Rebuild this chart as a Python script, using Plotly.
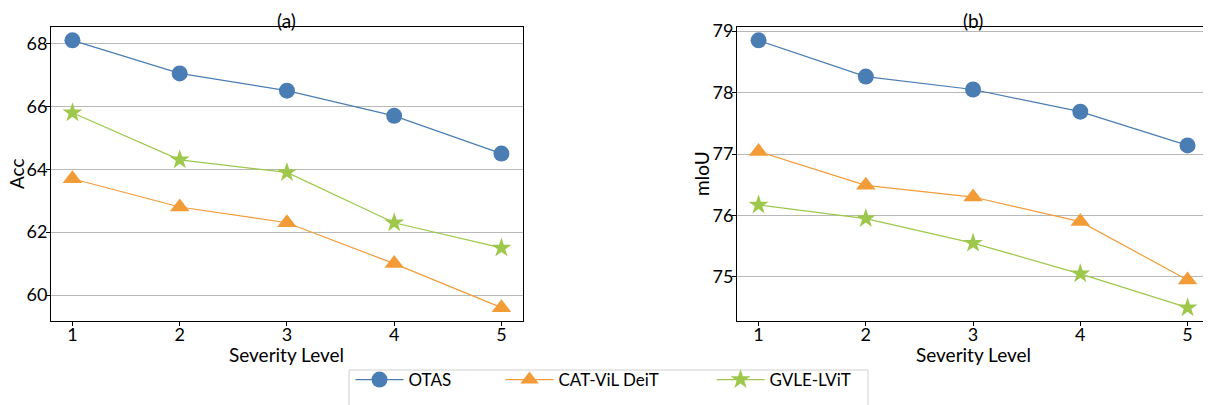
import plotly.graph_objects as go
from plotly.subplots import make_subplots

levels = [1, 2, 3, 4, 5]
series_names = ["OTAS", "CAT-ViL DeiT", "GVLE-LViT"]

acc_otas = [68.1, 67.05, 66.5, 65.7, 64.5]
acc_catvil = [63.7, 62.8, 62.3, 61.0, 59.6]
acc_gvle = [65.8, 64.3, 63.9, 62.3, 61.5]

miou_otas = [78.85, 78.26, 78.05, 77.69, 77.14]
miou_catvil = [77.04, 76.49, 76.30, 75.90, 74.95]
miou_gvle = [76.17, 75.95, 75.55, 75.05, 74.50]

acc_ticks = [60, 62, 64, 66, 68]
miou_ticks = [75, 76, 77, 78, 79]

panel_titles = ["(a)", "(b)"]
x_title = "Severity Level"
y_titles = ["Acc", "mIoU"]

colors = ["#4A7DB3", "#F29C38", "#9DC84B"]
symbols = ["circle", "triangle-up", "star"]
msizes = [16, 17, 15]
legend_ids = ["legend", "legend2", "legend3"]

FONT = "Lato"
# the page body adds an 8px offset: draw the figure 8px smaller and shift
# all reference pixel positions by OFF
OFF = 8
W, H = 1211 - OFF, 405 - OFF

def sx(px):
    return px - OFF

# page pixel x where each legend entry's line sample starts
legend_line_start = [356, 506, 717]

fig = make_subplots(rows=1, cols=2, horizontal_spacing=0.185)

for i, (name, ys) in enumerate(zip(series_names, [acc_otas, acc_catvil, acc_gvle])):
    fig.add_trace(go.Scatter(x=levels, y=ys, mode="lines+markers", name=name,
                             line=dict(color=colors[i], width=1.2),
                             marker=dict(symbol=symbols[i], size=msizes[i], color=colors[i],
                                         line=dict(width=0)),
                             legendgroup=name, legend=legend_ids[i], showlegend=True), row=1, col=1)
for i, (name, ys) in enumerate(zip(series_names, [miou_otas, miou_catvil, miou_gvle])):
    fig.add_trace(go.Scatter(x=levels, y=ys, mode="lines+markers", name=name,
                             line=dict(color=colors[i], width=1.2),
                             marker=dict(symbol=symbols[i], size=msizes[i], color=colors[i],
                                         line=dict(width=0)),
                             legendgroup=name, showlegend=False), row=1, col=2)

axis_common = dict(showline=True, linecolor="black", linewidth=1, mirror=True,
                   ticks="outside", ticklen=4, tickcolor="black",
                   tickfont=dict(family=FONT, size=18, color="black"), zeroline=False)

fig.update_xaxes(range=[0.8, 5.2], tickvals=levels, showgrid=False,
                 ticklabelstandoff=-7, **axis_common)
fig.update_yaxes(showgrid=True, gridcolor="#B8B8B8", gridwidth=1,
                 ticklabelstandoff=-5, **axis_common)
fig.update_yaxes(range=[59.175, 68.525], tickvals=acc_ticks, row=1, col=1)
fig.update_yaxes(range=[74.2825, 79.0675], tickvals=miou_ticks, row=1, col=2)

# legends: one per entry so that their spacing matches the reference
legend_common = dict(orientation="h", xref="container", yref="container",
                     xanchor="left", yanchor="top", y=1 - sx(362) / H,
                     borderwidth=0, bgcolor="rgba(0,0,0,0)",
                     font=dict(family=FONT, size=17, color="black"),
                     itemwidth=48)
layout_legends = {}
for lid, lx in zip(legend_ids, legend_line_start):
    layout_legends[lid] = dict(x=(lx - 13.5) / W, **legend_common)

plot_l, plot_r, plot_t, plot_b = sx(51), sx(1209), sx(27), sx(321)
def px_to_paper_x(px):
    return (px - plot_l) / (plot_r - plot_l)
def px_to_paper_y(py):
    return (plot_b - py) / (plot_b - plot_t)

fig.add_shape(type="rect", xref="paper", yref="paper",
              x0=px_to_paper_x(sx(349)), x1=px_to_paper_x(sx(868)),
              y0=px_to_paper_y(sx(412)), y1=px_to_paper_y(sx(370)),
              line=dict(color="#D0D0D0", width=1), fillcolor="white", layer="below")

fig.update_layout(
    width=W, height=H,
    margin=dict(l=plot_l, r=W - plot_r, t=plot_t, b=H - plot_b, autoexpand=False),
    paper_bgcolor="white", plot_bgcolor="white",
    font=dict(family=FONT, color="black"),
    **layout_legends,
)

# panel titles and axis titles as annotations (precise placement)
title_font = dict(family=FONT, size=19, color="black")
axis_title_font = dict(family=FONT, size=19, color="black")
domains = [fig.layout.xaxis.domain, fig.layout.xaxis2.domain]
ytitle_shift = [sx(16) - plot_l, sx(702) - sx(738)]
for k, dom in enumerate(domains):
    xc = (dom[0] + dom[1]) / 2
    fig.add_annotation(text=panel_titles[k], xref="paper", yref="paper", x=xc, y=1,
                       xanchor="center", yanchor="middle", yshift=plot_t - sx(20),
                       showarrow=False, font=title_font)
    fig.add_annotation(text=x_title, xref="paper", yref="paper", x=xc, y=0,
                       xanchor="center", yanchor="middle", yshift=-(sx(354) - plot_b),
                       showarrow=False, font=axis_title_font)
    fig.add_annotation(text=y_titles[k], xref="paper", yref="paper", x=dom[0], y=0.5,
                       xanchor="center", yanchor="middle", xshift=ytitle_shift[k],
                       textangle=-90, showarrow=False, font=axis_title_font)

fig.write_html("out.html")
